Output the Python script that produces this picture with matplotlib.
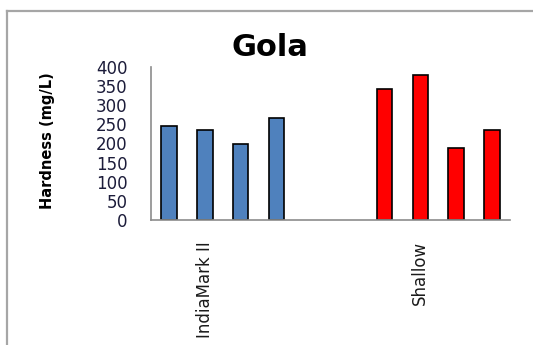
import numpy as np
import matplotlib
matplotlib.use('Agg')
import matplotlib.pyplot as plt
from matplotlib.lines import Line2D


# ===== Data =====
groups = ['IndiaMark II', 'Shallow']
india_vals = [247, 235, 199, 267]
shallow_vals = [342, 379, 188, 235]
yticks = [0, 50, 100, 150, 200, 250, 300, 350, 400]

pos_india = np.arange(len(india_vals))
pos_shallow = np.arange(len(shallow_vals)) + len(india_vals) + 2


# ===== Figure =====
fig = plt.figure(figsize=[5.33, 3.45], dpi=100)
ax = fig.add_axes([151/533, 1-220/345, 359/533, 153/345])

# chart border (only top and left visible, cut by image edge)
bx, by = 7/533, 1 - 11/345
fig.lines.append(Line2D([bx, 1.0], [by, by], transform=fig.transFigure,
                        color='#a6a6a6', linewidth=1.6))
fig.lines.append(Line2D([bx, bx], [0.0, by], transform=fig.transFigure,
                        color='#a6a6a6', linewidth=1.6))

ax.bar(pos_india, india_vals, width=0.43, color='#4f81bd', edgecolor='black', linewidth=1.2)
ax.bar(pos_shallow, shallow_vals, width=0.43, color='#ff0000', edgecolor='black', linewidth=1.2)

ax.set_xlim(-0.5, pos_shallow[-1] + 0.5)
ax.set_ylim(0, 400)
ax.set_yticks(yticks)
ax.set_yticklabels([str(v) for v in yticks], fontsize=12, color='#1c1c3a')
ax.set_xticks([pos_india[1], pos_shallow[1]])
ax.set_xticklabels(groups, rotation=90, fontsize=12, color='#1a1a1a')
ax.tick_params(axis='y', length=0, pad=17)
ax.tick_params(axis='x', length=0, pad=15)

for s in ['top', 'right']:
    ax.spines[s].set_visible(False)
for s in ['left', 'bottom']:
    ax.spines[s].set_color('#8c8c8c')
    ax.spines[s].set_linewidth(1.2)

ax.set_ylabel('Hardness (mg/L)', fontsize=10.5, fontweight='bold')
ax.yaxis.set_label_coords(-0.267, 0.52)

fig.text(270/533, 1-48/345, 'Gola', fontsize=22, fontweight='bold', ha='center', va='center')

plt.savefig('out.png', dpi=100)
